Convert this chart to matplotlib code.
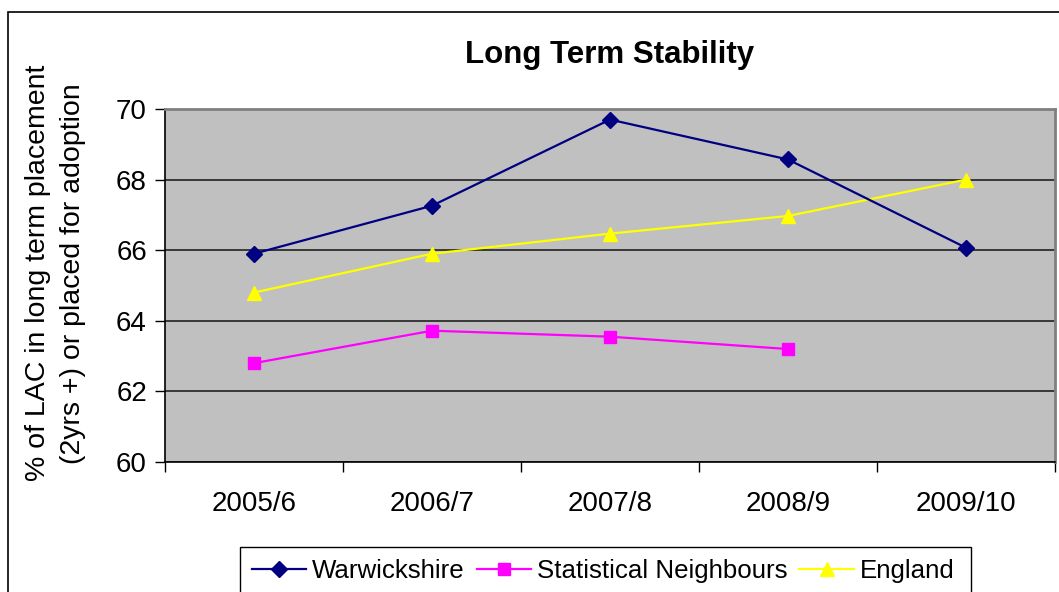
import matplotlib
matplotlib.use("Agg")
import matplotlib.pyplot as plt
from matplotlib.patches import Rectangle

# values
years = ["2005/6", "2006/7", "2007/8", "2008/9", "2009/10"]
warwickshire = [65.9, 67.26, 69.7, 68.57, 66.07]
stat_neighbours = [62.8, 63.72, 63.55, 63.2, None]
england = [64.8, 65.9, 66.47, 66.97, 68.0]

W, H = 1059, 592
plt.rcParams["font.family"] = ["Liberation Sans", "DejaVu Sans"]

fig = plt.figure(figsize=(W / 100, H / 100), dpi=100)
ax = fig.add_axes([165 / W, 1 - 462 / H, 890 / W, 353 / H])

x = list(range(len(years)))
sn_x = [i for i, v in zip(x, stat_neighbours) if v is not None]
sn_y = [v for v in stat_neighbours if v is not None]

ax.plot(x, warwickshire, color="#000080", marker="D", markersize=8, lw=1.6,
        label="Warwickshire", zorder=4)
ax.plot(sn_x, sn_y, color="#FF00FF", marker="s", markersize=8, lw=1.6,
        label="Statistical Neighbours", zorder=3)
ax.plot(x, england, color="#FFFF00", marker="^", markersize=10, lw=1.6,
        label="England", zorder=3)

ax.set_facecolor("#C0C0C0")
ax.set_xlim(-0.5, len(years) - 0.5)
ax.set_ylim(60, 70)
ax.set_yticks(range(60, 71, 2))
ax.yaxis.grid(True, color="#222222", lw=1.2)
ax.set_axisbelow(True)

# ticks sit between categories, labels centred on them
ax.set_xticks([i - 0.5 for i in range(len(years) + 1)], minor=False)
ax.set_xticklabels([])
ax.set_xticks(x, minor=True)
ax.set_xticklabels(years, minor=True, fontsize=20)
ax.tick_params(axis="x", which="minor", length=0, pad=21)
ax.tick_params(axis="x", which="major", length=7, width=1, direction="out")
ax.tick_params(axis="y", labelsize=20, length=7, width=1, pad=6)

for side in ("top", "right"):
    ax.spines[side].set_color("#808080")
    ax.spines[side].set_linewidth(2)
for side in ("left", "bottom"):
    ax.spines[side].set_color("black")
    ax.spines[side].set_linewidth(1.2)

ax.set_ylabel("% of LAC in long term placement\n(2yrs +) or placed for adoption",
              fontsize=20.5, linespacing=1.45)
ax.yaxis.set_label_coords(-0.089, 0.535)
ax.set_title("Long Term Stability", fontsize=22.5, fontweight="bold", pad=33)

# outer chart border
fig.patches.append(Rectangle((8 / W, -0.05), 1.1, 1 - 12 / H + 0.05,
                             transform=fig.transFigure, fill=False,
                             edgecolor="black", lw=1.2, zorder=0))

leg = fig.legend(loc="upper left", bbox_to_anchor=(240 / W, 1 - 547 / H),
                 ncol=3, fontsize=18.6, frameon=False, handlelength=2.1,
                 handletextpad=0.25, columnspacing=0.45, borderpad=0.45,
                 borderaxespad=0)
# legend frame, tight on the right as in the original
fig.patches.append(Rectangle((240 / W, -0.05), 731 / W, 1 - 547 / H + 0.05,
                             transform=fig.transFigure, fill=False,
                             edgecolor="black", lw=1, zorder=1))

fig.savefig("out.png", dpi=100)
